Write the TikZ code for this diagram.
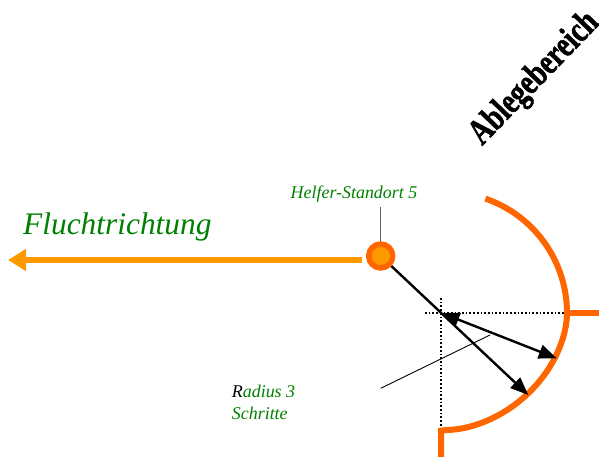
\documentclass[tikz,border=0pt]{standalone}
\usepackage{fontspec}
\setmainfont{Liberation Serif}
\newfontfamily\ablegefont[FakeBold=1.6]{Liberation Serif Bold}
\usetikzlibrary{arrows.meta}
\definecolor{darkorange}{RGB}{255,102,0}
\definecolor{lightorange}{RGB}{255,153,0}
\definecolor{labelgreen}{RGB}{0,128,0}
\tikzset{
  arcline/.style={draw=darkorange, line width=6bp},
  radiusarrow/.style={draw=black, line width=2.4bp, -{Triangle[length=18bp,width=14bp]}},
  guideline/.style={draw=black, line width=1.5bp, dash pattern=on 1.7bp off 2bp},
  greentext/.style={text=labelgreen, font=\itshape, inner sep=0pt},
}
\begin{document}
\begin{tikzpicture}[x=1bp, y=-1bp]
\useasboundingbox (0,0) rectangle (599,457);

% coordinates
\coordinate (cross) at (441.5,313);
\coordinate (tipA) at (528.3,395);
\coordinate (tipB) at (556.7,358.3);
\coordinate (hleft) at (425,313);
\coordinate (hright) at (566.5,313);
\coordinate (vtop) at (441,298);
\coordinate (vbot) at (441,430);
\coordinate (fstart) at (362,260);
\coordinate (ftip) at (8,260);
\coordinate (lead1) at (380.7,388.3);
\coordinate (lead2) at (490,335);
\coordinate (stem) at (380.7,206.7);
\coordinate (rstart) at (566.5,313);
\coordinate (rend) at (600,313);

% dotted guides
\draw[guideline] (hleft) -- (hright);
\draw[guideline] (vtop) -- (vbot);

% placement arc
\draw[arcline, line join=miter]
  plot[domain=-71:0, samples=40, smooth] ({446+121*cos(\x)},{313+121*sin(\x)})
  -- plot[domain=0.5:89.5, samples=50, smooth] ({446+121*pow(cos(\x),1.1)},{313+117*pow(sin(\x),1.1)})
  -- (441,430.7) -- (441,460);
\draw[arcline] (rstart) -- (rend);

% escape direction arrow
\draw[draw=lightorange, line width=6.5bp, -{Triangle[length=18bp,width=21bp]}] (fstart) -- (ftip);

% helper position
\node[circle, draw=darkorange, fill=lightorange, line width=5.5bp, minimum size=24bp, inner sep=0pt] (h5) at (380.7,256) {};
\draw[draw=black!60, line width=1.5bp] (stem) -- (h5);

% radius arrows
\draw[radiusarrow] (h5) -- (tipA);
\draw[radiusarrow, {Triangle[length=18bp,width=14bp]}-{Triangle[length=18bp,width=14bp]}] (cross) -- (tipB);

% leader
\draw[black, line width=0.9bp] (lead1) -- (lead2);

% labels
\node[greentext, font=\itshape\fontsize{18}{22}\selectfont, anchor=base] (h5label) at (354,198.3) {Helfer-Standort 5};
\node[greentext, font=\itshape\fontsize{31.5}{36}\selectfont, anchor=base west] (fluchtlabel) at (23,235) {Fluchtrichtung};
\node[greentext, font=\itshape\fontsize{18}{22}\selectfont, anchor=base west] (radiuslabel) at (231.7,397) {\textcolor{black}{R}adius 3};
\node[greentext, font=\itshape\fontsize{18}{22}\selectfont, anchor=base west] (schrittelabel) at (231.7,419) {Schritte};
\node[inner sep=0pt, rotate=46, font=\ablegefont\fontsize{28}{30}\selectfont] (ablegelabel) at (535,79) {\scalebox{1}[1.3]{Ablegebereich}};
\end{tikzpicture}
\end{document}
